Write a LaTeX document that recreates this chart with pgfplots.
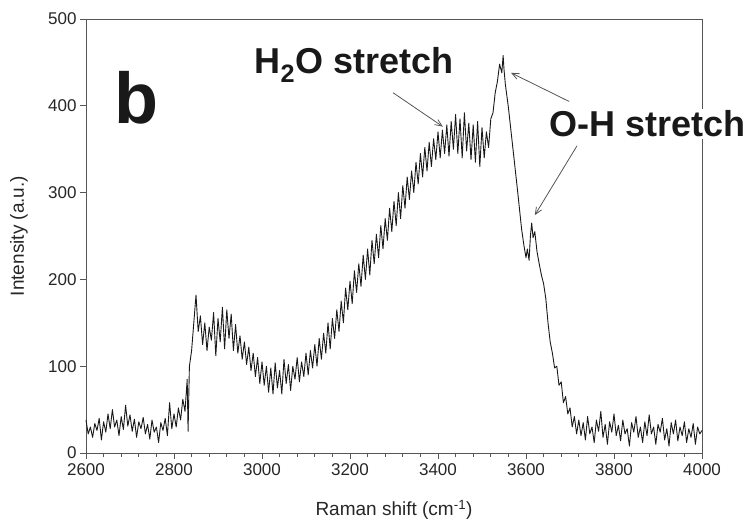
\documentclass[border=0pt]{standalone}
\usepackage{pgfplots}
\pgfplotsset{compat=1.18}
\usepackage{fontspec}
\setmainfont{Liberation Sans}
\usetikzlibrary{arrows.meta,calc}
\definecolor{spine}{RGB}{85,85,85}
\begin{document}
\begin{tikzpicture}
\begin{axis}[
  scale only axis,
  width=616pt, height=434pt,
  xmin=2600, xmax=4000, ymin=0, ymax=500,
  xtick={2600,2800,...,4000},
  ytick={0,100,...,500},
  minor x tick num=4,
  tick pos=left,
  tick align=outside,
  major tick length=6pt,
  minor tick length=4pt,
  axis line style={spine, line width=0.8pt},
  every tick/.style={spine, line width=0.8pt},
  /pgf/number format/assume math mode=true,
  /pgf/number format/1000 sep={},
  tick label style={font=\fontsize{17}{20}\selectfont, text=black!85},
  xticklabel style={yshift=-1pt},
  every axis y label/.style={at={([xshift=-67pt]axis description cs:0,0.5)}, rotate=90, anchor=center, font=\fontsize{19}{22}\selectfont, text=black!85},
  every axis x label/.style={at={([yshift=-57pt]axis description cs:0.5,0)}, anchor=center, font=\fontsize{19}{22}\selectfont, text=black!85},
  xlabel={Raman shift (cm\textsuperscript{-1})},
  ylabel={Intensity (a.u.)},
  clip=false,
]
\coordinate (sw) at (rel axis cs:0,0);
\addplot[black!90, line width=0.9pt, line join=round] coordinates {
(2600,38) (2605,22) (2610,30) (2615,18) (2620,34) (2625,26) (2630,40) (2635,15) (2640,36) (2645,24)
(2650,45) (2655,28) (2660,50) (2665,30) (2670,38) (2675,20) (2680,42) (2685,27) (2690,55) (2695,31)
(2700,44) (2705,25) (2710,39) (2715,18) (2720,36) (2725,28) (2730,41) (2735,22) (2740,33) (2745,16)
(2750,38) (2755,24) (2760,30) (2765,12) (2770,35) (2775,26) (2780,40) (2785,20) (2790,58) (2795,28)
(2800,45) (2805,30) (2810,52) (2815,38) (2820,62) (2825,48) (2830,85) (2832,25) (2835,100) (2840,118)
(2845,150) (2850,182) (2855,140) (2860,158) (2865,125) (2870,150) (2875,118) (2880,145) (2885,130) (2890,162)
(2895,112) (2900,155) (2905,128) (2910,168) (2915,120) (2920,165) (2925,132) (2930,160) (2935,118) (2940,148)
(2945,115) (2950,135) (2955,108) (2960,128) (2965,102) (2970,122) (2975,95) (2980,115) (2985,88) (2990,110)
(2995,80) (3000,105) (3005,78) (3010,100) (3015,70) (3020,98) (3025,68) (3030,104) (3035,75) (3040,95)
(3045,68) (3050,108) (3055,80) (3060,102) (3065,72) (3070,100) (3075,85) (3080,110) (3085,82) (3090,105)
(3095,88) (3100,115) (3105,90) (3110,118) (3115,98) (3120,125) (3125,100) (3130,132) (3135,108) (3140,138)
(3145,115) (3150,150) (3155,120) (3160,155) (3165,132) (3170,165) (3175,140) (3180,175) (3185,150) (3190,190)
(3195,165) (3200,198) (3205,172) (3210,210) (3215,185) (3220,218) (3225,192) (3230,228) (3235,200) (3240,235)
(3245,205) (3250,245) (3255,218) (3260,252) (3265,225) (3270,262) (3275,235) (3280,270) (3285,245) (3290,282)
(3295,255) (3300,290) (3305,262) (3310,300) (3315,270) (3320,308) (3325,282) (3330,318) (3335,292) (3340,325)
(3345,300) (3350,335) (3355,310) (3360,345) (3365,318) (3370,352) (3375,325) (3380,358) (3385,330) (3390,362)
(3395,338) (3400,370) (3405,340) (3410,372) (3415,345) (3420,378) (3425,342) (3430,382) (3435,350) (3440,390)
(3445,345) (3450,385) (3455,340) (3460,392) (3465,348) (3470,380) (3475,338) (3480,378) (3485,335) (3490,382)
(3495,330) (3500,375) (3505,340) (3510,370) (3515,352) (3520,385) (3525,392) (3530,415) (3535,428) (3540,448)
(3545,438) (3548,458) (3550,442) (3553,425) (3560,398) (3570,352) (3580,306) (3590,258) (3595,240) (3600,225)
(3603,235) (3607,222) (3610,250) (3613,265) (3616,248) (3620,255) (3625,232) (3630,218) (3635,205) (3640,195)
(3645,178) (3650,150) (3655,128) (3660,115) (3665,98) (3670,100) (3675,78) (3680,82) (3685,58) (3690,65)
(3695,45) (3700,52) (3705,30) (3710,42) (3715,22) (3720,38) (3725,20) (3730,35) (3735,15) (3740,42)
(3745,22) (3750,30) (3755,12) (3760,38) (3765,25) (3770,48) (3775,18) (3780,33) (3785,10) (3790,36)
(3795,24) (3800,45) (3805,20) (3810,32) (3815,14) (3820,38) (3825,22) (3830,28) (3835,8) (3840,35)
(3845,24) (3850,42) (3855,18) (3860,30) (3865,12) (3870,36) (3875,20) (3880,44) (3885,22) (3890,30)
(3895,10) (3900,33) (3905,24) (3910,40) (3915,15) (3920,28) (3925,8) (3930,35) (3935,22) (3940,38)
(3945,14) (3950,30) (3955,20) (3960,36) (3965,12) (3970,28) (3975,18) (3980,34) (3985,10) (3990,30)
(3995,22) (4000,26)
};
\node[font=\fontsize{72}{72}\bfseries\selectfont, text=black!90] at (axis cs:2714,409) {b};
\node[font=\fontsize{36}{38}\bfseries\selectfont, text=black!90] at (axis cs:3209,447) {H\textsubscript{2}O stretch};
\node[font=\fontsize{36}{38}\bfseries\selectfont, text=black!90, fill=white, inner sep=2pt] at (axis cs:3877,379) {O-H stretch};
\draw[spine, line width=0.8pt, -{Straight Barb[length=7pt,width=6pt]}] (axis cs:3298,415) -- (axis cs:3411,376);
\draw[spine, line width=0.8pt, -{Straight Barb[length=7pt,width=6pt]}] (axis cs:3698,405) -- (axis cs:3566,438);
\draw[spine, line width=0.8pt, -{Straight Barb[length=7pt,width=6pt]}] (axis cs:3716,354) -- (axis cs:3620,274);
\end{axis}
\pgfresetboundingbox
\useasboundingbox ($(sw)+(-86pt,-78pt)$) rectangle ($(sw)+(668pt,453pt)$);
\end{tikzpicture}
\end{document}
